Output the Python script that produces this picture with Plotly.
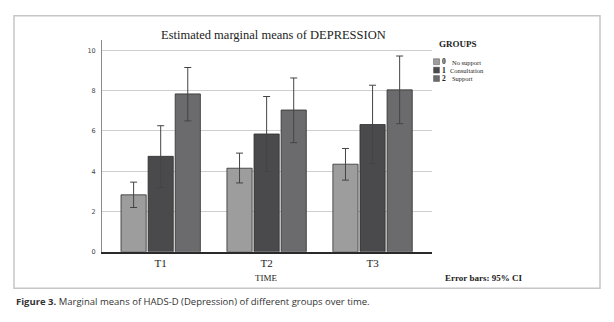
import plotly.graph_objects as go

times = ["T1", "T2", "T3"]
groups = ["No support", "Consultation", "Support"]
group_codes = ["0", "1", "2"]
means = {
    "No support": [2.83, 4.15, 4.35],
    "Consultation": [4.74, 5.85, 6.32],
    "Support": [7.84, 7.04, 8.04],
}
ci_low = {
    "No support": [2.20, 3.42, 3.56],
    "Consultation": [3.19, 3.99, 4.38],
    "Support": [6.50, 5.42, 6.36],
}
ci_high = {
    "No support": [3.46, 4.90, 5.13],
    "Consultation": [6.26, 7.71, 8.27],
    "Support": [9.15, 8.63, 9.72],
}
y_ticks = [0, 2, 4, 6, 8, 10]
colors = ["#9d9d9d", "#4a4a4c", "#6b6b6d"]

W, H = 614, 322
def px(x):
    return x / W
def py(y):
    return 1 - y / H

fig = go.Figure()
for g, c in zip(groups, colors):
    m = means[g]
    up = [h - v for h, v in zip(ci_high[g], m)]
    dn = [v - l for v, l in zip(m, ci_low[g])]
    fig.add_trace(go.Bar(
        x=times, y=m, name=g,
        marker=dict(color=c, line=dict(color="#2e2e2e", width=0.8)),
        error_y=dict(type="data", array=up, arrayminus=dn, color="#444444",
                     thickness=1, width=3.5),
        showlegend=False,
    ))

serif = "Liberation Serif"
fig.update_layout(
    width=W, height=H,
    margin=dict(l=0, r=0, t=0, b=0),
    paper_bgcolor="white", plot_bgcolor="white",
    barmode="group", bargap=0.233, bargroupgap=0.07,
    xaxis=dict(domain=[px(102), px(432)], range=[-0.554, 2.561],
               showline=True, linecolor="#2a2a2a", linewidth=2,
               tickfont=dict(family=serif, size=11, color="#222"),
               ticks="", showgrid=False),
    yaxis=dict(domain=[py(255), py(40)], range=[0, 10.54],
               tickvals=y_ticks, ticktext=[str(t) for t in y_ticks],
               showline=True, linecolor="#8a8a8a", linewidth=1,
               gridcolor="#cfcfcf", gridwidth=1, zeroline=False,
               tickfont=dict(family="DejaVu Sans", size=6.5, color="#444"),
               ticks="", ticklabelstandoff=4),
    font=dict(family=serif),
)

shapes = [dict(type="rect", xref="paper", yref="paper",
               x0=px(14), x1=px(600), y0=py(292), y1=py(16),
               line=dict(color="#c6c6c6", width=1.5))]
ann = []
ann.append(dict(text="Estimated marginal means of DEPRESSION", x=px(273), y=py(35),
                font=dict(family=serif, size=12.5, color="#222")))
ann.append(dict(text="TIME", x=px(266), y=py(281),
                font=dict(family=serif, size=9, color="#222")))
ann.append(dict(text="<b>Error bars: 95% CI</b>", x=px(483), y=py(282),
                font=dict(family=serif, size=9, color="#222")))
ann.append(dict(text="<b>GROUPS</b>", x=px(437), y=py(45), xanchor="left",
                font=dict(family=serif, size=9, color="#222")))
item_y = [62.5, 71, 79.5]
for code, g, c, yy in zip(group_codes, groups, colors, item_y):
    shapes.append(dict(type="rect", xref="paper", yref="paper",
                       x0=px(433.5), x1=px(439.5), y0=py(yy + 3), y1=py(yy - 3),
                       fillcolor=c, line=dict(color="#555", width=0.5)))
    ann.append(dict(text="<b>" + code + "</b>", x=px(440.5), y=py(yy), xanchor="left",
                    borderpad=0,
                    font=dict(family=serif, size=7.5, color="#222")))
    ann.append(dict(text=g, x=px(448.5 if code == "1" else 450.5), y=py(yy + 0.3), xanchor="left",
                    borderpad=0,
                    font=dict(family=serif, size=6.5, color="#222")))
ann.append(dict(text="<b>Figure 3.</b> Marginal means of HADS-D (Depression) of different groups over time.",
                x=px(14), y=py(305), xanchor="left",
                font=dict(family="Open Sans", size=9.5, color="#333")))
for a in ann:
    a.setdefault("xanchor", "center")
    a.update(xref="paper", yref="paper", yanchor="middle", showarrow=False)
fig.update_layout(shapes=shapes, annotations=ann)
fig.write_html("out.html")
